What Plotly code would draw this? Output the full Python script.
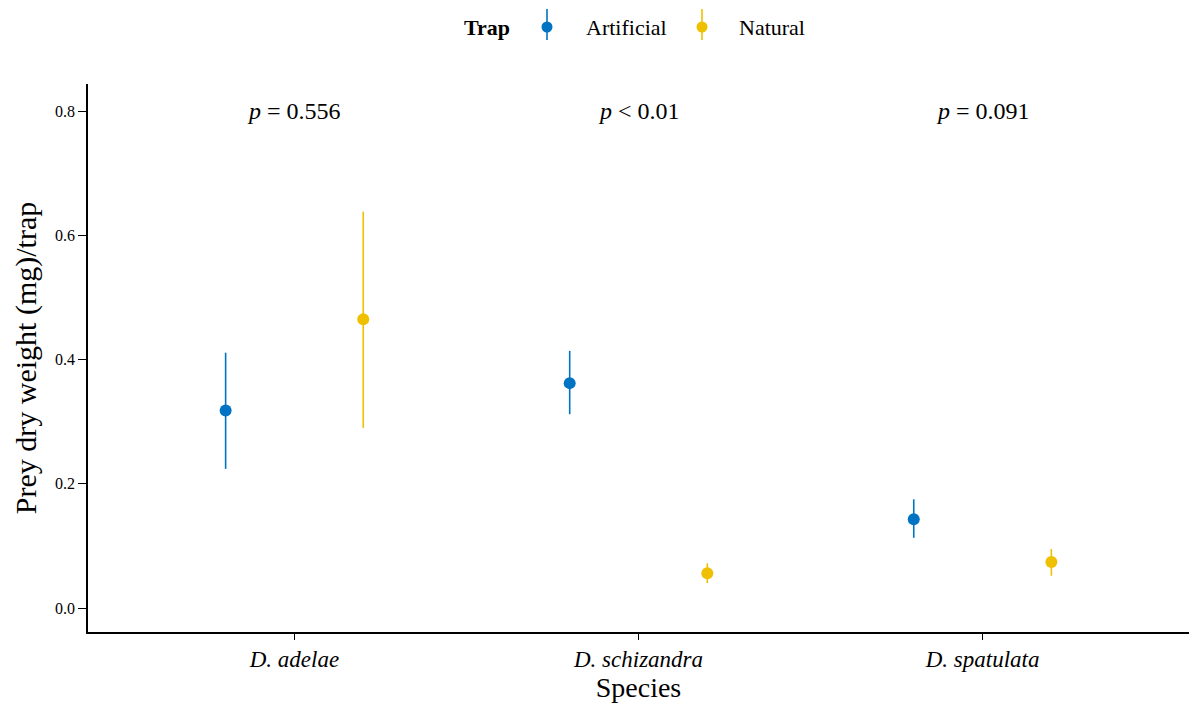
import plotly.graph_objects as go

# Species on the x axis and trap types (dodged)
species = ["D. adelae", "D. schizandra", "D. spatulata"]
traps = ["Artificial", "Natural"]

# Mean prey dry weight (mg) per trap with interval bounds
artificial_mean = [0.318, 0.362, 0.143]
artificial_low = [0.224, 0.312, 0.113]
artificial_high = [0.411, 0.414, 0.175]

natural_mean = [0.465, 0.056, 0.074]
natural_low = [0.290, 0.040, 0.052]
natural_high = [0.638, 0.072, 0.095]

p_labels = ["<i>p</i> = 0.556", "<i>p</i> &lt; 0.01", "<i>p</i> = 0.091"]
p_y = 0.8

colors = {"Artificial": "#0073C2", "Natural": "#EFC000"}
dodge = {"Artificial": -0.2, "Natural": 0.2}
series = {
    "Artificial": (artificial_mean, artificial_low, artificial_high),
    "Natural": (natural_mean, natural_low, natural_high),
}

serif = "Liberation Serif, Times New Roman, serif"

W, H = 1189, 711
ML, MR, MT, MB = 88, 0, 84, 79


def px_to_paper(px, py):
    return (px - ML) / (W - ML - MR), (H - MB - py) / (H - MT - MB)


fig = go.Figure()
for trap in traps:
    mean, low, high = series[trap]
    xs = [i + 1 + dodge[trap] for i in range(len(species))]
    fig.add_trace(go.Scatter(
        x=xs, y=mean, mode="markers", name=trap, showlegend=False,
        marker=dict(color=colors[trap], size=12, symbol="circle"),
        error_y=dict(
            type="data", symmetric=False,
            array=[h - m for h, m in zip(high, mean)],
            arrayminus=[m - l for m, l in zip(mean, low)],
            color=colors[trap], thickness=1.6, width=0,
        ),
    ))

for i, lab in enumerate(p_labels):
    fig.add_annotation(x=i + 1, y=p_y, text=lab, showarrow=False,
                       font=dict(family=serif, size=24, color="black"),
                       xanchor="center", yanchor="middle")

# Legend drawn as point-range keys above the panel
leg_y = 27
tx, ty = px_to_paper(462, leg_y)
fig.add_annotation(x=tx, y=ty, xref="paper", yref="paper", text="<b>Trap</b>",
                   showarrow=False, xanchor="left", yanchor="middle",
                   font=dict(family=serif, size=22, color="black"))
for trap, key_x, text_x in [("Artificial", 547, 584), ("Natural", 702, 737)]:
    kx, ky = px_to_paper(key_x, leg_y)
    _, ky0 = px_to_paper(key_x, 9)
    _, ky1 = px_to_paper(key_x, 40)
    fig.add_shape(type="line", xref="paper", yref="paper", x0=kx, x1=kx, y0=ky0, y1=ky1,
                  line=dict(color=colors[trap], width=1.6))
    fig.add_shape(type="circle", xref="paper", yref="paper",
                  xsizemode="pixel", ysizemode="pixel", xanchor=kx, yanchor=ky,
                  x0=-5.5, x1=5.5, y0=-5.5, y1=5.5,
                  fillcolor=colors[trap], line=dict(width=0))
    lx, ly = px_to_paper(text_x, leg_y)
    fig.add_annotation(x=lx, y=ly, xref="paper", yref="paper", text=trap,
                       showarrow=False, xanchor="left", yanchor="middle",
                       font=dict(family=serif, size=22, color="black"))

fig.update_layout(
    width=W, height=H,
    margin=dict(l=ML, r=MR, t=MT, b=MB),
    plot_bgcolor="white", paper_bgcolor="white",
    font=dict(family=serif, color="black"),
    showlegend=False,
    xaxis=dict(
        range=[0.4, 3.6],
        tickmode="array", tickvals=[1, 2, 3],
        ticktext=[f"<i>{s}</i>" for s in species],
        tickfont=dict(family=serif, size=23, color="black"),
        showline=True, linecolor="black", linewidth=1.5,
        ticks="outside", ticklen=6, tickcolor="black", tickwidth=1,
        showgrid=False, zeroline=False,
        title=dict(text="Species", font=dict(family=serif, size=28), standoff=6),
    ),
    yaxis=dict(
        range=[-0.0386, 0.8435],
        tickmode="array", tickvals=[0.0, 0.2, 0.4, 0.6, 0.8],
        ticktext=["0.0", "0.2", "0.4", "0.6", "0.8"],
        tickfont=dict(family=serif, size=16, color="black"),
        showline=True, linecolor="black", linewidth=1.5,
        ticks="outside", ticklen=8, tickcolor="black", tickwidth=1,
        showgrid=False, zeroline=False,
        title=dict(text="Prey dry weight (mg)/trap", font=dict(family=serif, size=30), standoff=10),
    ),
)

fig.write_html("out.html")
